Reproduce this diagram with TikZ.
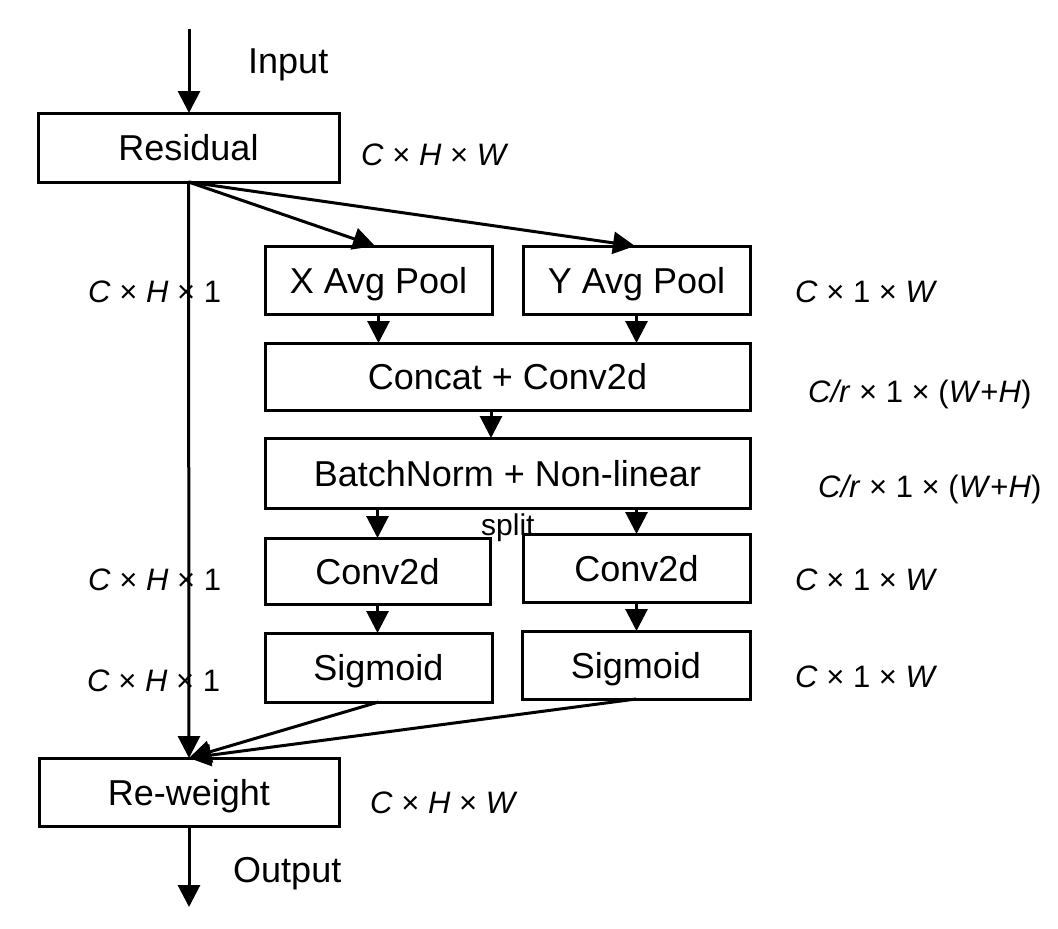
\documentclass[tikz,border=0pt]{standalone}
\usepackage{fontspec}
\setmainfont{Liberation Sans}
\usetikzlibrary{arrows.meta}
\begin{document}
\begin{tikzpicture}[x=1pt,y=-1pt,
  box/.style={draw,line width=3pt,inner sep=0pt,outer sep=0pt,text height=26pt,text depth=0pt,font=\fontsize{36}{40}\selectfont},
  lab/.style={anchor=base west,inner sep=0pt,font=\fontsize{31}{36}\selectfont},
  big/.style={anchor=base west,inner sep=0pt,font=\fontsize{36}{40}\selectfont},
  arr/.style={line width=3pt,-{Triangle[length=22pt,width=22pt]}}]
\useasboundingbox (0,0) rectangle (1058,929);
% boxes
\node[box,minimum width=301pt,minimum height=69pt] (res) at (188.5,147.5) {Residual};
\node[box,minimum width=227pt,minimum height=68pt] (xp) at (378.5,280) {X Avg Pool};
\node[box,minimum width=227pt,minimum height=68pt] (yp) at (636.5,280) {Y Avg Pool};
\node[box,minimum width=485pt,minimum height=67pt] (cc) at (507.5,376.5) {Concat + Conv2d};
\node[box,minimum width=485pt,minimum height=70pt] (bn) at (507.5,473) {BatchNorm + Non-linear};
\node[box,minimum width=225pt,minimum height=66pt] (cl) at (377.5,571) {Conv2d};
\node[box,minimum width=227pt,minimum height=68pt] (cr) at (636.5,568) {Conv2d};
\node[box,minimum width=227pt,minimum height=69pt] (sl) at (378.5,667.5) {Sigmoid};
\node[box,minimum width=228pt,minimum height=68pt] (sr) at (636,665) {Sigmoid};
\node[box,minimum width=300pt,minimum height=68pt] (rw) at (189,792) {Re-weight};
% labels
\node[big] (tin) at (248,73) {Input};
\node[big] (tout) at (233,882) {Output};
\node[anchor=base west,inner sep=0pt,font=\fontsize{30}{34}\selectfont] (tsplit) at (481,535) {split};
\node[lab] (l1) at (361,165) {\textit{C} × \textit{H} × \textit{W}};
\node[lab] (l2) at (88,302) {\textit{C} × \textit{H} × 1};
\node[lab] (l3) at (795,302) {\textit{C} × 1 × \textit{W}};
\node[lab] (l4) at (808,402) {\textit{C/r} × 1 × (\textit{W}+\textit{H})};
\node[lab] (l5) at (818,497) {\textit{C/r} × 1 × (\textit{W}+\textit{H})};
\node[lab] (l6) at (88,590) {\textit{C} × \textit{H} × 1};
\node[lab] (l7) at (795,590) {\textit{C} × 1 × \textit{W}};
\node[lab] (l8) at (87,691) {\textit{C} × \textit{H} × 1};
\node[lab] (l9) at (795,687) {\textit{C} × 1 × \textit{W}};
\node[lab] (l10) at (370,813) {\textit{C} × \textit{H} × \textit{W}};
% connectors
\coordinate (cin) at (189,29);
\coordinate (cout) at (189,907);
\draw[arr] (cin) -- (res.north -| cin);
\draw[arr] (res.south) -- ([xshift=-3.5pt]xp.north);
\draw[arr] (res.south) -- ([xshift=-1.5pt]yp.north);
\draw[arr] (res.south) -- (rw.north);
\draw[arr] (xp.south) -- (xp.south |- cc.north);
\draw[arr] (yp.south) -- (yp.south |- cc.north);
\draw[arr] ([xshift=-16.5pt]cc.south) -- ([xshift=-16.5pt]cc.south |- bn.north);
\draw[arr] (bn.south -| cl.north) -- (cl.north);
\draw[arr] (bn.south -| cr.north) -- (cr.north);
\draw[arr] (cl.south) -- (sl.north -| cl.south);
\draw[arr] (cr.south) -- (sr.north -| cr.south);
\draw[arr] (sl.south) -- (rw.north);
\draw[arr] (sr.south) -- (rw.north);
\draw[arr] (rw.south) -- (cout);
\end{tikzpicture}
\end{document}
